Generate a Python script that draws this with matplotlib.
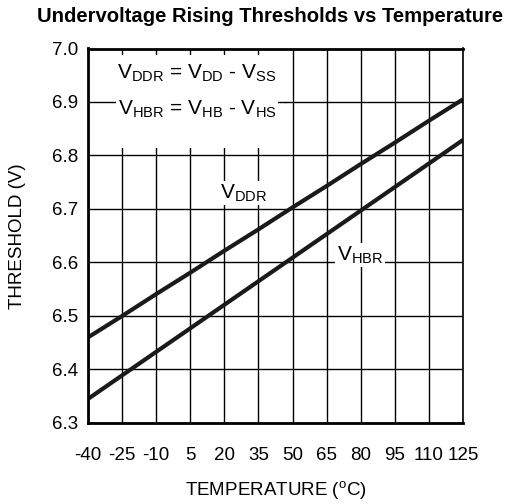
import matplotlib
matplotlib.use("Agg")
import matplotlib.pyplot as plt
from matplotlib.patches import Rectangle

plt.rcParams['font.family'] = ['Liberation Sans', 'DejaVu Sans']

temperature = [-40, -25, -10, 5, 20, 35, 50, 65, 80, 95, 110, 125]
vddr = [6.460, 6.500, 6.541, 6.581, 6.622, 6.662, 6.703, 6.743, 6.784, 6.824, 6.865, 6.905]
vhbr = [6.345, 6.389, 6.433, 6.477, 6.521, 6.565, 6.609, 6.653, 6.697, 6.741, 6.785, 6.829]
x_ticks = temperature
y_ticks = [6.3, 6.4, 6.5, 6.6, 6.7, 6.8, 6.9, 7.0]

fig = plt.figure(figsize=(5.19, 5.04), dpi=100)
ax = fig.add_axes([88/519, 1-423/504, (463-88)/519, (423-48.5)/504])
ax.set_xlim(-40, 125)
ax.set_ylim(6.3, 7.0)
ax.set_xticks(x_ticks)
ax.set_xticklabels([str(t) for t in x_ticks])
ax.set_yticks(y_ticks)
ax.set_yticklabels([f"{v:.1f}" for v in y_ticks])
ax.tick_params(axis='both', length=0, labelsize=13.5)
ax.tick_params(axis='x', pad=17)
ax.tick_params(axis='y', pad=7)

for t in x_ticks:
    ax.axvline(t, color='black', lw=1.0, zorder=1)
for v in y_ticks:
    ax.axhline(v, color='black', lw=1.0, zorder=1)

# white area behind equations
ax.add_patch(Rectangle((-40, 6.814), 86.5, 6.988 - 6.814, facecolor='white',
                       edgecolor='none', zorder=2))
ax.plot([-40, 46.5], [6.9, 6.9], color='black', lw=1.0, zorder=2.5)

ax.plot(temperature, vddr, color='#1a1a1a', lw=3, zorder=3, solid_capstyle='butt')
ax.plot(temperature, vhbr, color='#1a1a1a', lw=3, zorder=3, solid_capstyle='butt')

bbox = dict(facecolor='white', edgecolor='none', pad=1)
fs = 15
ax.text(8, 6.954, r'V$_{\mathregular{DDR}}$ = V$_{\mathregular{DD}}$ - V$_{\mathregular{SS}}$',
        ha='center', va='center', fontsize=fs, zorder=4, bbox=bbox)
ax.text(8, 6.886, r'V$_{\mathregular{HBR}}$ = V$_{\mathregular{HB}}$ - V$_{\mathregular{HS}}$',
        ha='center', va='center', fontsize=fs, zorder=4, bbox=bbox)
ax.text(28.6, 6.73, r'V$_{\mathregular{DDR}}$', ha='center', va='center',
        fontsize=fs, zorder=4, bbox=bbox)
ax.text(79.7, 6.614, r'V$_{\mathregular{HBR}}$', ha='center', va='center',
        fontsize=fs, zorder=4, bbox=bbox)

for side in ['left', 'top', 'bottom']:
    ax.spines[side].set_linewidth(2)
ax.spines['right'].set_linewidth(1.2)
for s in ax.spines.values():
    s.set_zorder(5)

ax.set_xlabel(r'TEMPERATURE ($^{\mathregular{o}}$C)', fontsize=13.5, labelpad=11)
ax.set_ylabel('THRESHOLD (V)', fontsize=13.5, labelpad=19)
fig.text(270/519, 1 - 17/504, 'Undervoltage Rising Thresholds vs Temperature',
         ha='center', va='center', fontsize=14.6, fontweight='bold')

fig.savefig('out.png', dpi=100)
